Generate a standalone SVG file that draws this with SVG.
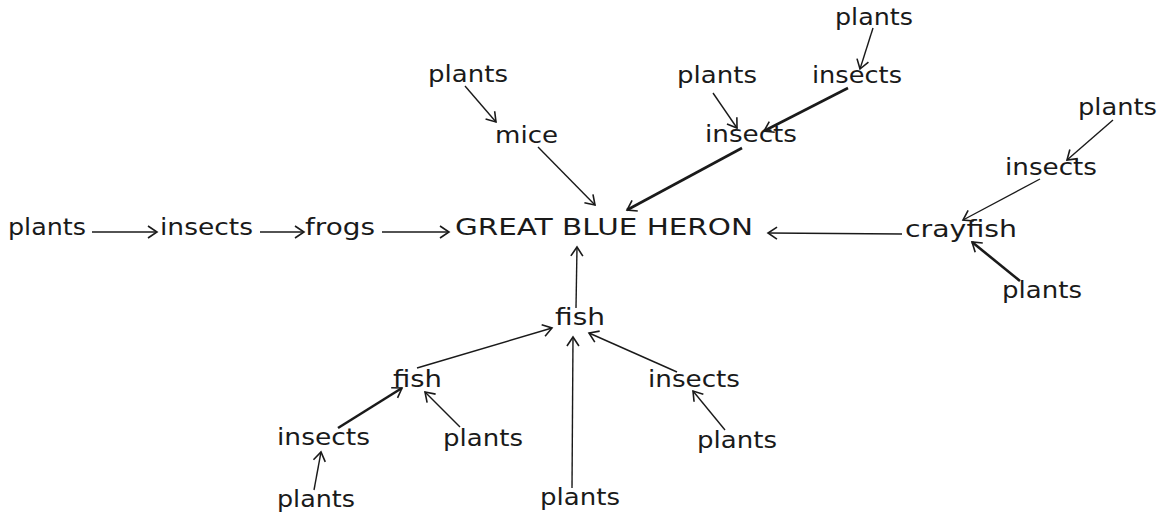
<svg xmlns="http://www.w3.org/2000/svg" width="1170" height="517" viewBox="0 0 1170 517">
<style>
text{font-family:"DejaVu Sans","Liberation Sans",sans-serif;font-size:23px;fill:#1a1a1a}
.c line{stroke:#1a1a1a;stroke-width:1.4;fill:none;marker-end:url(#ah)}
.c line.t{stroke-width:2.6}
</style>
<defs>
<marker id="ah" markerUnits="userSpaceOnUse" markerWidth="24" markerHeight="24" viewBox="-12 -12 24 24" refX="0" refY="0" orient="auto">
<path d="M-9,-6 L0,0 L-9,6" fill="none" stroke="#1a1a1a" stroke-width="1.6"/>
</marker>
</defs>
<rect width="1170" height="517" fill="#fff"/>
<g id="heron"><text x="455" y="235" textLength="298" lengthAdjust="spacingAndGlyphs">GREAT BLUE HERON</text></g>
<g id="plants-left"><text x="8" y="235" textLength="78" lengthAdjust="spacingAndGlyphs">plants</text></g>
<g id="insects-left"><text x="160" y="235" textLength="93" lengthAdjust="spacingAndGlyphs">insects</text></g>
<g id="frogs"><text x="305" y="235" textLength="70" lengthAdjust="spacingAndGlyphs">frogs</text></g>
<g id="plants-mice"><text x="428" y="82" textLength="80" lengthAdjust="spacingAndGlyphs">plants</text></g>
<g id="mice"><text x="495" y="143" textLength="63" lengthAdjust="spacingAndGlyphs">mice</text></g>
<g id="plants-top"><text x="835" y="25" textLength="78" lengthAdjust="spacingAndGlyphs">plants</text></g>
<g id="insects-top"><text x="812" y="83" textLength="90" lengthAdjust="spacingAndGlyphs">insects</text></g>
<g id="plants-top2"><text x="677" y="83" textLength="80" lengthAdjust="spacingAndGlyphs">plants</text></g>
<g id="insects-top2"><text x="705" y="142" textLength="92" lengthAdjust="spacingAndGlyphs">insects</text></g>
<g id="plants-right"><text x="1078" y="115" textLength="79" lengthAdjust="spacingAndGlyphs">plants</text></g>
<g id="insects-right"><text x="1005" y="175" textLength="92" lengthAdjust="spacingAndGlyphs">insects</text></g>
<g id="crayfish"><text x="905" y="237" textLength="112" lengthAdjust="spacingAndGlyphs">crayfish</text></g>
<g id="plants-crayfish"><text x="1002" y="298" textLength="80" lengthAdjust="spacingAndGlyphs">plants</text></g>
<g id="fish-center"><text x="555" y="325" textLength="50" lengthAdjust="spacingAndGlyphs">fish</text></g>
<g id="fish-left"><text x="393" y="387" textLength="49" lengthAdjust="spacingAndGlyphs">fish</text></g>
<g id="insects-bl"><text x="277" y="445" textLength="93" lengthAdjust="spacingAndGlyphs">insects</text></g>
<g id="plants-bl"><text x="277" y="507" textLength="78" lengthAdjust="spacingAndGlyphs">plants</text></g>
<g id="plants-fish-left"><text x="443" y="446" textLength="80" lengthAdjust="spacingAndGlyphs">plants</text></g>
<g id="plants-bottom"><text x="540" y="505" textLength="80" lengthAdjust="spacingAndGlyphs">plants</text></g>
<g id="insects-br"><text x="648" y="387" textLength="92" lengthAdjust="spacingAndGlyphs">insects</text></g>
<g id="plants-br"><text x="697" y="448" textLength="80" lengthAdjust="spacingAndGlyphs">plants</text></g>
<g id="connectors" class="c">
<line x1="92" y1="232" x2="157" y2="232"/>
<line x1="260" y1="232" x2="304" y2="232"/>
<line x1="382" y1="232" x2="449" y2="232"/>
<line x1="465" y1="86" x2="496" y2="122"/>
<line x1="538" y1="147" x2="595" y2="205"/>
<line x1="873" y1="28" x2="860" y2="69"/>
<line x1="713" y1="93" x2="737" y2="128"/>
<line class="t" x1="848" y1="88" x2="764" y2="131"/>
<line class="t" x1="742" y1="148" x2="627" y2="210"/>
<line x1="1113" y1="120" x2="1067" y2="160"/>
<line x1="1040" y1="179" x2="963" y2="220"/>
<line x1="902" y1="234" x2="768" y2="233"/>
<line class="t" x1="1020" y1="281" x2="972" y2="242"/>
<line x1="576" y1="308" x2="577" y2="247"/>
<line x1="417" y1="368" x2="552" y2="328"/>
<line x1="572" y1="488" x2="573" y2="337"/>
<line x1="677" y1="372" x2="589" y2="333"/>
<line x1="725" y1="430" x2="693" y2="391"/>
<line class="t" x1="338" y1="428" x2="402" y2="388"/>
<line x1="460" y1="427" x2="425" y2="392"/>
<line x1="314" y1="490" x2="321" y2="452"/>
</g>
</svg>
